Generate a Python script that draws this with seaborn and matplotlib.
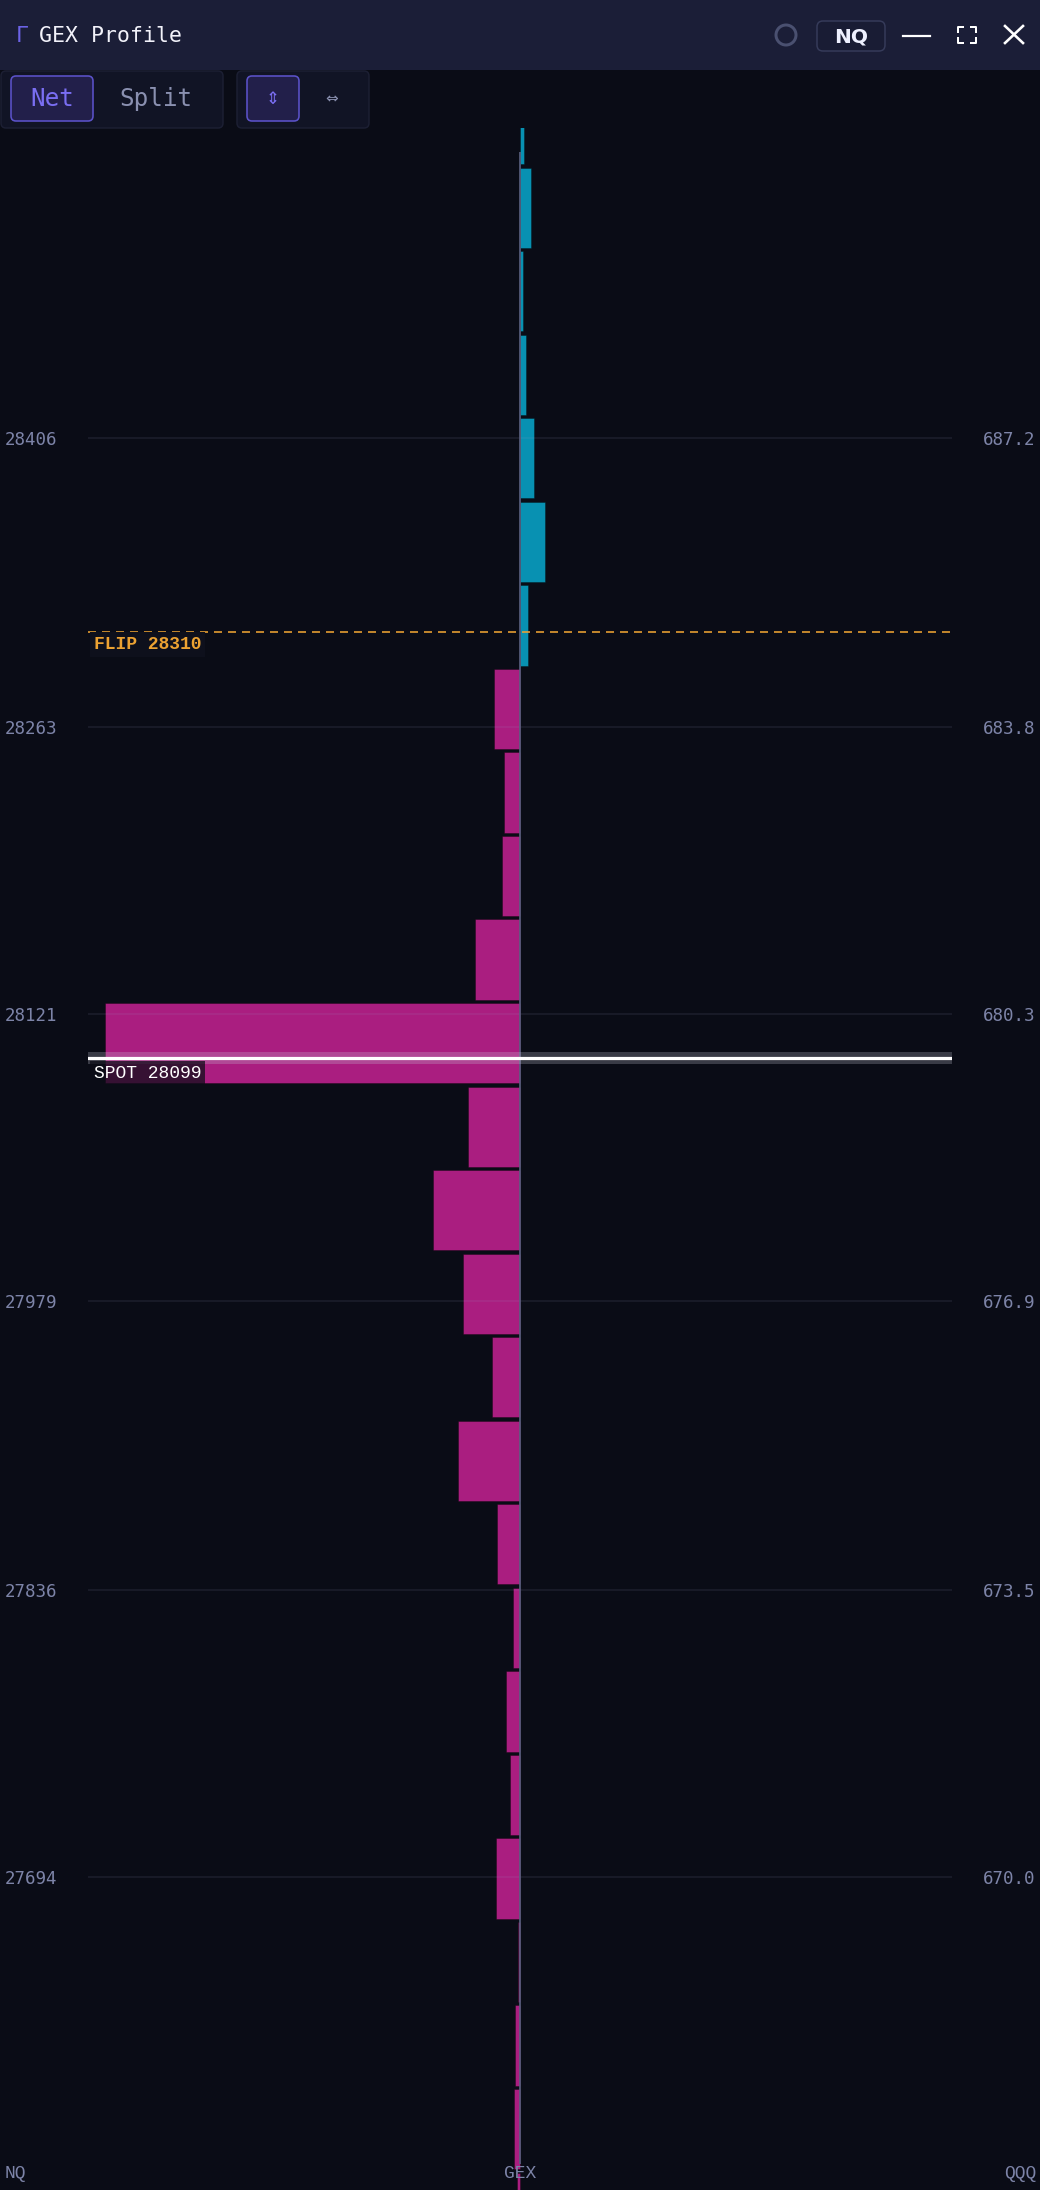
import numpy as np
import pandas as pd
import matplotlib
matplotlib.use("Agg")
import matplotlib.pyplot as plt
import seaborn as sns
from matplotlib.patches import FancyBboxPatch, Rectangle, Circle
from matplotlib.lines import Line2D

# ---------------- data ----------------
qqq_strikes = [691, 690, 689, 688, 687, 686, 685, 684, 683, 682, 681, 680, 679,
               678, 677, 676, 675, 674, 673, 672, 671, 670, 669, 668, 667, 666]
net_gex = [0.037, 0.107, 0.027, 0.057, 0.137, 0.247, 0.077,
           -0.26, -0.157, -0.18, -0.45, -4.15, -0.517,
           -0.87, -0.57, -0.28, -0.617, -0.227, -0.073, -0.14,
           -0.10, -0.24, -0.02, -0.047, -0.057, -0.03]
nq_per_qqq = 41.333
flip_level = 28310
spot_level = 28099
nq_ticks = [28406, 28263, 28121, 27979, 27836, 27694]
nq_tick_labels = ["28406", "28263", "28121", "27979", "27836", "27694"]
qqq_tick_labels = ["687.2", "683.8", "680.3", "676.9", "673.5", "670.0"]

# ---------------- style ----------------
BG = "#0a0c16"
TITLE_BG = "#1b1e37"
TEAL = "#0891b2"
MAGENTA = "#aa1e80"
LABEL = "#7d84a8"
ORANGE = "#eca232"
plt.rcParams["lines.scale_dashes"] = False
MONO = ["DejaVu Sans Mono"]
CMONO = ["Liberation Mono", "DejaVu Sans Mono"]

W, H = 1040, 2190
fig = plt.figure(figsize=(W / 100, H / 100), dpi=100, facecolor=BG)

px = 0.72  # points per pixel at dpi 100
ax_left, ax_right, ax_top = 88, 952, 128
ax = fig.add_axes([ax_left / W, 0, (ax_right - ax_left) / W, (H - ax_top) / H])
ax.set_facecolor(BG)

df = pd.DataFrame({
    "nq": np.array(qqq_strikes) * nq_per_qqq,
    "gex": net_gex,
})
df["side"] = np.where(df["gex"] >= 0, "pos", "neg")

sns.barplot(data=df, x="gex", y="nq", hue="side", orient="h", native_scale=True,
            palette={"pos": TEAL, "neg": MAGENTA}, hue_order=["pos", "neg"],
            dodge=False, width=0.96, legend=False, ax=ax,
            edgecolor=(0, 0, 0, 0.3), linewidth=0.7, saturation=1)

ax.set_xlim(-4.32, 4.32)
ax.set_ylim(27539.0, 28559.2)
for s in ax.spines.values():
    s.set_visible(False)
ax.set_xlabel("")
ax.set_ylabel("")
ax.set_xticks([])
ax.set_yticks(nq_ticks, labels=nq_tick_labels)
ax.tick_params(axis="y", length=0, pad=22, labelsize=12.6, labelcolor=LABEL)
for t in ax.get_yticklabels():
    t.set_fontfamily(MONO)

# grid lines
for v in nq_ticks:
    ax.axhline(v, color="#9aa0c8", alpha=0.13, lw=1.5 * px, zorder=3)

# zero line
ax.axvline(0, ymin=0.013, ymax=0.988, color="#5a6080", alpha=0.85, lw=2 * px, zorder=4)

# flip line
ax.axhline(flip_level, color=ORANGE, lw=1.6 * px, linestyle=(0, (8 * px, 6 * px)), zorder=5)
ax.annotate(f"FLIP {flip_level}", xy=(0, flip_level), xycoords=("axes fraction", "data"),
            xytext=(6 * px, -12.5 * px), textcoords="offset points",
            ha="left", va="center", fontsize=13, fontweight="bold", color=ORANGE,
            family=CMONO, zorder=6,
            bbox=dict(boxstyle="square,pad=0.22", fc="#0e101c", ec="none"))

# spot line
ax.axhline(spot_level, color="#c8cad8", alpha=0.25, lw=12 * px, zorder=5)
ax.axhline(spot_level, color="white", lw=3.2 * px, zorder=6)
ax.annotate(f"SPOT {spot_level}", xy=(0, spot_level), xycoords=("axes fraction", "data"),
            xytext=(6 * px, -15 * px), textcoords="offset points",
            ha="left", va="center", fontsize=13, color="white",
            family=CMONO, zorder=7,
            bbox=dict(boxstyle="square,pad=0.2", fc=BG, alpha=0.72, ec="none"))

# right axis (QQQ)
ax2 = ax.twinx()
ax2.set_ylim(ax.get_ylim())
ax2.set_yticks(nq_ticks, labels=qqq_tick_labels)
ax2.tick_params(axis="y", length=0, pad=22, labelsize=12.6, labelcolor=LABEL)
for t in ax2.get_yticklabels():
    t.set_fontfamily(MONO)
for s in ax2.spines.values():
    s.set_visible(False)
ax2.patch.set_alpha(0)

# ---------------- chrome overlay ----------------
ov = fig.add_axes([0, 0, 1, 1], zorder=10)
ov.set_xlim(0, W)
ov.set_ylim(H, 0)
ov.axis("off")
ov.patch.set_alpha(0)

ov.add_patch(Rectangle((0, 0), W, 70, fc=TITLE_BG, ec="none"))
ov.text(16, 36, "Γ", color="#6c63e6", fontsize=15.5, family=MONO, va="center", ha="left")
ov.text(39, 36, "GEX Profile", color="#f2f2fa", fontsize=15.5, family=MONO, va="center", ha="left")

# right title icons
ov.add_patch(Circle((786, 35), 10, fc="none", ec="#4a5070", lw=3 * px))
ov.add_patch(FancyBboxPatch((817, 21), 68, 30, boxstyle="round,pad=0,rounding_size=6",
                            fc="#191c34", ec="#363b5a", lw=1.5 * px))
ov.text(851, 37, "NQ", color="#eef0ff", fontsize=14.5, fontweight="bold",
        family=["DejaVu Sans"], ha="center", va="center")
ov.add_line(Line2D([903, 930], [36, 36], color="white", lw=2.2 * px))
a = 5
x0, x1, y0, y1 = 958, 976, 27, 43
for xs, ys in [([x0, x0, x0 + a], [y0 + a, y0, y0]), ([x1 - a, x1, x1], [y0, y0, y0 + a]),
               ([x0, x0, x0 + a], [y1 - a, y1, y1]), ([x1 - a, x1, x1], [y1, y1, y1 - a])]:
    ov.add_line(Line2D(xs, ys, color="white", lw=2 * px))
ov.add_line(Line2D([1005, 1023], [26, 43], color="white", lw=2.6 * px))
ov.add_line(Line2D([1005, 1023], [43, 26], color="white", lw=2.6 * px))

# toolbar
ov.add_patch(FancyBboxPatch((1, 71), 222, 57, boxstyle="round,pad=0,rounding_size=5",
                            fc="#111425", ec="#1c1f33", lw=1.5 * px))
ov.add_patch(FancyBboxPatch((11, 76), 82, 45, boxstyle="round,pad=0,rounding_size=5",
                            fc="#221f4a", ec="#5b52c9", lw=1.6 * px))
ov.text(52, 99, "Net", color="#7a6ef2", fontsize=17.5, family=MONO, ha="center", va="center")
ov.text(156, 99, "Split", color="#8a90b0", fontsize=17.5, family=MONO, ha="center", va="center")
ov.add_patch(FancyBboxPatch((237, 71), 132, 57, boxstyle="round,pad=0,rounding_size=5",
                            fc="#111425", ec="#1c1f33", lw=1.5 * px))
ov.add_patch(FancyBboxPatch((247, 76), 52, 45, boxstyle="round,pad=0,rounding_size=5",
                            fc="#221f4a", ec="#5b52c9", lw=1.6 * px))
ov.text(273, 99, "⇕", color="#7a6ef2", fontsize=12, family=["DejaVu Sans"], ha="center", va="center")
ov.text(332, 99, "⇔", color="#8a90b0", fontsize=11, family=["DejaVu Sans"], ha="center", va="center")

# bottom axis labels
ov.text(5, 2174, "NQ", color=LABEL, fontsize=13, family=CMONO, ha="left", va="center")
ov.text(520, 2174, "GEX", color=LABEL, fontsize=13, family=CMONO, ha="center", va="center")
ov.text(1036, 2174, "QQQ", color=LABEL, fontsize=13, family=CMONO, ha="right", va="center")

fig.savefig("out.png", dpi=100, facecolor=BG)
